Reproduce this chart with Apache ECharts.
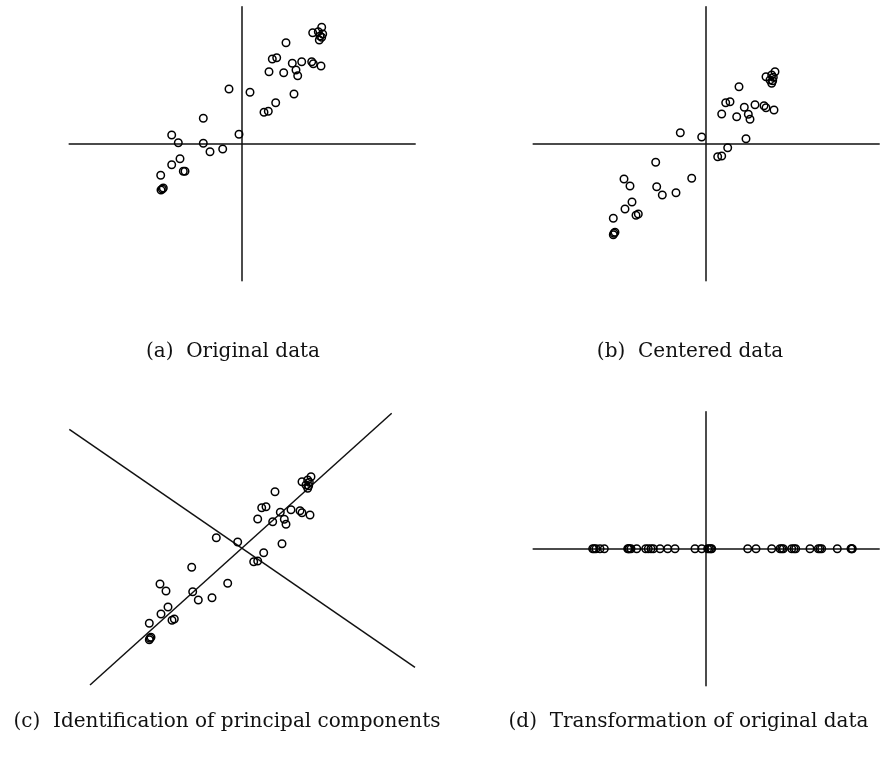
<!DOCTYPE html>
<html>
<head>
<meta charset="utf-8">
<script src="https://cdn.jsdelivr.net/npm/echarts@6/dist/echarts.min.js"></script>
<style>
html,body{margin:0;padding:0;background:#fff;}
#chart{width:890px;height:764px;}
</style>
</head>
<body>
<div id="chart"></div>
<script>
// ---- data (units, origin at each panel's axis crossing) ----
var originalData = [
  [80.0,116.4],[71.0,111.0],[76.6,112.0],[81.0,109.7],[78.3,107.7],[77.6,103.7],[80.0,106.4],
  [44.3,101.0],[30.6,84.7],[35.0,86.0],[50.6,80.4],[60.0,82.0],[70.0,82.0],[71.6,80.0],[79.3,77.7],
  [27.3,72.0],[42.0,71.0],[54.3,73.7],[56.0,68.0],[8.3,51.4],[-12.7,54.7],[52.3,49.7],[34.0,41.0],
  [22.3,31.4],[26.6,32.4],[-38.4,25.4],[-2.7,9.4],[-70.0,8.7],[-63.4,1.0],[-38.4,0.4],[-31.7,-8.0],
  [-19.0,-5.3],[-61.7,-15.0],[-70.0,-21.0],[-58.4,-27.6],[-56.7,-27.6],[-81.0,-31.6],[-79.4,-45.3],
  [-80.7,-46.3],[-78.4,-44.3]
];
var centeredData = [
  [69.3,72.0],[60.3,67.0],[66.0,68.7],[67.6,66.4],[64.3,63.7],[66.0,60.4],[67.0,63.0],
  [33.3,57.0],[20.0,41.0],[24.3,42.0],[38.6,36.4],[49.3,39.0],[58.3,38.0],[60.3,36.0],[68.3,33.7],
  [16.0,29.7],[31.0,27.0],[42.6,29.4],[44.3,24.4],[-4.0,6.7],[-25.4,11.0],[40.3,5.0],[22.0,-4.0],
  [12.0,-13.0],[16.0,-12.3],[-50.0,-18.6],[-14.0,-34.6],[-81.7,-35.3],[-75.7,-42.3],[-49.0,-43.0],
  [-43.4,-51.3],[-29.7,-49.0],[-73.7,-58.3],[-80.7,-65.3],[-69.7,-71.6],[-67.4,-70.3],[-92.4,-74.6],
  [-91.7,-89.6],[-92.4,-91.0],[-90.7,-88.6]
];
var pc1Line = [[-151.7,-136.3],[150.0,135.4]];
var pc2Line = [[-172.4,119.4],[173.3,-118.6]];
var projectedValues = [
  -113,-111.5,-109.7,-105.7,-101.4,-78,-77,-76.4,-74.7,-69,-60,-57.4,-54.7,-52.4,-45.7,-38,-30.7,
  -10.7,-4,2,3.6,5,6,
  42,50.3,66,74.3,76,77.6,86,88.3,90,104.3,112.6,114.3,116,131.6,145.3,146,146.6
];
var captions = [
  '(a)  Original data',
  '(b)  Centered data',
  '(c)  Identification of principal components',
  '(d)  Transformation of original data'
];
var xRange = [-172.5, 173.5];
var yRange = [-137, 137];

// ---- chart ----
var chart = echarts.init(document.getElementById('chart'), null, {renderer:'canvas'});
var ink = '#111';
var grids = [
  {left:69.2, top:6.7,   width:346, height:274},
  {left:533.2,top:6.7,   width:346, height:274},
  {left:69.2, top:411.7, width:346, height:274},
  {left:533.2,top:411.7, width:346, height:274}
];
function mkX(i, showLine){
  return {type:'value', gridIndex:i, min:xRange[0], max:xRange[1],
    axisLine:{show:showLine, onZero:true, lineStyle:{color:ink, width:1.5}},
    axisTick:{show:false}, axisLabel:{show:false}, splitLine:{show:false}};
}
function mkY(i, showLine){
  return {type:'value', gridIndex:i, min:yRange[0], max:yRange[1],
    axisLine:{show:showLine, onZero:true, lineStyle:{color:ink, width:1.5}},
    axisTick:{show:false}, axisLabel:{show:false}, splitLine:{show:false}};
}
var markerStyle = {color:'rgba(0,0,0,0)', borderColor:'#000', borderWidth:1.5, opacity:1};
function scatter(i, data){
  return {type:'scatter', xAxisIndex:i, yAxisIndex:i, data:data, symbol:'circle',
    symbolSize:7.5, itemStyle:markerStyle, silent:true, z:3};
}
function line(i, data){
  return {type:'line', xAxisIndex:i, yAxisIndex:i, data:data, symbol:'none',
    lineStyle:{color:ink, width:1.5}, silent:true, z:2};
}
var projectedData = projectedValues.map(function(v){ return [v, 0]; });
var capPos = [[233,352],[690,352],[227,722],[688.5,722]];
var graphics = captions.map(function(t,k){
  return {type:'text', x:capPos[k][0], y:capPos[k][1],
    style:{text:t, fontFamily:'DejaVu Serif', fontSize:20, fill:'#111', align:'center', verticalAlign:'middle'}};
});
chart.setOption({
  animation:false,
  backgroundColor:'#fff',
  grid:grids,
  xAxis:[mkX(0,true), mkX(1,true), mkX(2,false), mkX(3,true)],
  yAxis:[mkY(0,true), mkY(1,true), mkY(2,false), mkY(3,true)],
  series:[
    scatter(0, originalData),
    scatter(1, centeredData),
    line(2, pc1Line),
    line(2, pc2Line),
    scatter(2, centeredData),
    scatter(3, projectedData)
  ],
  graphic:graphics
});
</script>
</body>
</html>
